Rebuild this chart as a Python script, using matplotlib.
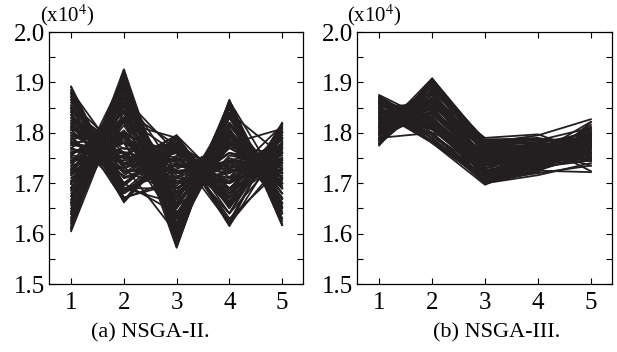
import matplotlib
matplotlib.use("Agg")
import matplotlib.pyplot as plt
from matplotlib.ticker import MultipleLocator

# objective index on the x axis
objectives = [1, 2, 3, 4, 5]

# NSGA-II solutions, one row per solution, values in units of 1e4
nsga2 = [
    [1.605, 1.868, 1.572, 1.865, 1.617],
    [1.612, 1.925, 1.590, 1.820, 1.680],
    [1.620, 1.904, 1.585, 1.858, 1.617],
    [1.626, 1.920, 1.600, 1.795, 1.670],
    [1.632, 1.912, 1.612, 1.850, 1.668],
    [1.638, 1.858, 1.598, 1.863, 1.692],
    [1.644, 1.926, 1.620, 1.785, 1.652],
    [1.650, 1.825, 1.608, 1.848, 1.620],
    [1.656, 1.898, 1.630, 1.795, 1.710],
    [1.662, 1.852, 1.618, 1.862, 1.652],
    [1.668, 1.915, 1.642, 1.755, 1.735],
    [1.674, 1.822, 1.628, 1.857, 1.640],
    [1.680, 1.795, 1.650, 1.835, 1.670],
    [1.686, 1.890, 1.640, 1.780, 1.728],
    [1.692, 1.825, 1.660, 1.786, 1.662],
    [1.698, 1.910, 1.652, 1.750, 1.715],
    [1.704, 1.832, 1.668, 1.798, 1.720],
    [1.710, 1.798, 1.662, 1.840, 1.755],
    [1.716, 1.872, 1.680, 1.728, 1.708],
    [1.722, 1.756, 1.672, 1.792, 1.672],
    [1.728, 1.830, 1.690, 1.740, 1.765],
    [1.734, 1.785, 1.684, 1.802, 1.712],
    [1.740, 1.868, 1.700, 1.702, 1.787],
    [1.746, 1.752, 1.695, 1.797, 1.695],
    [1.752, 1.726, 1.712, 1.782, 1.720],
    [1.758, 1.820, 1.705, 1.720, 1.785],
    [1.764, 1.752, 1.722, 1.735, 1.705],
    [1.770, 1.838, 1.715, 1.690, 1.772],
    [1.776, 1.762, 1.732, 1.742, 1.762],
    [1.782, 1.725, 1.728, 1.778, 1.808],
    [1.788, 1.800, 1.742, 1.672, 1.748],
    [1.794, 1.685, 1.738, 1.725, 1.725],
    [1.800, 1.758, 1.752, 1.680, 1.802],
    [1.806, 1.712, 1.748, 1.735, 1.760],
    [1.812, 1.795, 1.760, 1.640, 1.820],
    [1.818, 1.680, 1.755, 1.730, 1.740],
    [1.824, 1.665, 1.768, 1.722, 1.755],
    [1.830, 1.748, 1.765, 1.655, 1.818],
    [1.836, 1.685, 1.775, 1.672, 1.740],
    [1.842, 1.768, 1.772, 1.625, 1.808],
    [1.848, 1.695, 1.780, 1.685, 1.795],
    [1.854, 1.662, 1.778, 1.712, 1.815],
    [1.860, 1.735, 1.785, 1.615, 1.782],
    [1.866, 1.665, 1.790, 1.658, 1.768],
    [1.872, 1.698, 1.788, 1.620, 1.812],
    [1.878, 1.665, 1.792, 1.662, 1.805],
    [1.884, 1.738, 1.795, 1.618, 1.816],
    [1.890, 1.665, 1.790, 1.653, 1.777],
    [1.700, 1.845, 1.775, 1.680, 1.760],
    [1.740, 1.820, 1.790, 1.665, 1.780],
    [1.690, 1.870, 1.760, 1.700, 1.750],
    [1.850, 1.690, 1.690, 1.760, 1.740],
    [1.870, 1.672, 1.700, 1.745, 1.735],
    [1.830, 1.700, 1.640, 1.800, 1.690],
    [1.800, 1.735, 1.600, 1.840, 1.660],
    [1.660, 1.880, 1.720, 1.735, 1.745],
    [1.760, 1.780, 1.650, 1.805, 1.700],
    [1.820, 1.720, 1.790, 1.640, 1.760],
    [1.780, 1.760, 1.780, 1.630, 1.730],
    [1.720, 1.800, 1.680, 1.770, 1.720],
    [1.640, 1.900, 1.630, 1.820, 1.680],
    [1.880, 1.680, 1.770, 1.690, 1.790],
    [1.745, 1.790, 1.735, 1.720, 1.770],
    [1.795, 1.750, 1.760, 1.620, 1.745],
    [1.615, 1.880, 1.600, 1.830, 1.700],
    [1.630, 1.895, 1.660, 1.770, 1.760],
    [1.650, 1.860, 1.700, 1.720, 1.790],
    [1.675, 1.900, 1.580, 1.850, 1.660],
    [1.700, 1.800, 1.620, 1.810, 1.640],
    [1.725, 1.845, 1.640, 1.790, 1.700],
    [1.750, 1.760, 1.690, 1.760, 1.745],
    [1.775, 1.820, 1.710, 1.700, 1.780],
    [1.790, 1.700, 1.770, 1.700, 1.760],
    [1.810, 1.760, 1.660, 1.780, 1.690],
    [1.835, 1.740, 1.720, 1.745, 1.720],
    [1.855, 1.720, 1.750, 1.660, 1.790],
    [1.875, 1.700, 1.780, 1.680, 1.770],
    [1.892, 1.680, 1.740, 1.700, 1.800],
    [1.610, 1.910, 1.600, 1.800, 1.720],
    [1.720, 1.880, 1.610, 1.860, 1.630],
    [1.770, 1.730, 1.795, 1.690, 1.740],
    [1.860, 1.760, 1.700, 1.740, 1.720],
    [1.640, 1.830, 1.760, 1.640, 1.800],
    [1.805, 1.800, 1.630, 1.830, 1.650],
    [1.608, 1.900, 1.575, 1.855, 1.640],
    [1.625, 1.885, 1.595, 1.840, 1.660],
    [1.645, 1.870, 1.615, 1.820, 1.690],
    [1.665, 1.840, 1.635, 1.800, 1.700],
    [1.685, 1.815, 1.655, 1.815, 1.680],
    [1.705, 1.790, 1.675, 1.775, 1.740],
    [1.715, 1.805, 1.700, 1.745, 1.770],
    [1.730, 1.780, 1.720, 1.730, 1.750],
    [1.742, 1.770, 1.745, 1.705, 1.790],
    [1.755, 1.745, 1.765, 1.690, 1.775],
    [1.768, 1.740, 1.780, 1.670, 1.800],
    [1.785, 1.715, 1.790, 1.660, 1.810],
    [1.815, 1.700, 1.770, 1.675, 1.795],
    [1.845, 1.710, 1.735, 1.710, 1.760],
    [1.865, 1.690, 1.725, 1.735, 1.740],
    [1.885, 1.670, 1.710, 1.760, 1.725],
    [1.825, 1.725, 1.680, 1.780, 1.700],
    [1.795, 1.780, 1.620, 1.850, 1.645],
    [1.735, 1.860, 1.590, 1.860, 1.625],
    [1.660, 1.915, 1.575, 1.865, 1.630],
    [1.700, 1.890, 1.600, 1.835, 1.655],
    [1.760, 1.800, 1.660, 1.795, 1.690],
    [1.810, 1.740, 1.700, 1.770, 1.710],
    [1.850, 1.730, 1.760, 1.700, 1.750],
    [1.880, 1.695, 1.795, 1.650, 1.800],
    [1.620, 1.860, 1.680, 1.760, 1.720],
    [1.690, 1.830, 1.720, 1.700, 1.780],
    [1.780, 1.790, 1.740, 1.710, 1.790],
    [1.840, 1.690, 1.660, 1.775, 1.730],
    [1.755, 1.830, 1.690, 1.745, 1.735],
]

# NSGA-III solutions
nsga3 = [
    [1.875, 1.823, 1.702, 1.740, 1.798],
    [1.872, 1.780, 1.707, 1.727, 1.769],
    [1.870, 1.808, 1.722, 1.742, 1.808],
    [1.868, 1.780, 1.697, 1.741, 1.753],
    [1.865, 1.821, 1.716, 1.729, 1.788],
    [1.862, 1.788, 1.702, 1.734, 1.821],
    [1.860, 1.832, 1.721, 1.728, 1.753],
    [1.858, 1.796, 1.724, 1.749, 1.787],
    [1.855, 1.806, 1.720, 1.739, 1.745],
    [1.852, 1.782, 1.713, 1.749, 1.800],
    [1.850, 1.853, 1.723, 1.753, 1.793],
    [1.848, 1.783, 1.727, 1.739, 1.764],
    [1.845, 1.838, 1.743, 1.755, 1.802],
    [1.842, 1.780, 1.718, 1.754, 1.748],
    [1.840, 1.851, 1.737, 1.741, 1.783],
    [1.838, 1.818, 1.722, 1.746, 1.816],
    [1.835, 1.862, 1.742, 1.740, 1.752],
    [1.832, 1.826, 1.745, 1.762, 1.782],
    [1.830, 1.836, 1.741, 1.752, 1.745],
    [1.828, 1.807, 1.734, 1.761, 1.795],
    [1.825, 1.883, 1.744, 1.765, 1.788],
    [1.822, 1.813, 1.748, 1.752, 1.759],
    [1.820, 1.868, 1.764, 1.767, 1.798],
    [1.818, 1.810, 1.739, 1.766, 1.748],
    [1.815, 1.881, 1.758, 1.754, 1.778],
    [1.812, 1.848, 1.744, 1.760, 1.810],
    [1.810, 1.892, 1.763, 1.753, 1.750],
    [1.808, 1.856, 1.766, 1.775, 1.776],
    [1.805, 1.866, 1.762, 1.764, 1.735],
    [1.802, 1.837, 1.755, 1.774, 1.790],
    [1.800, 1.908, 1.765, 1.778, 1.783],
    [1.798, 1.843, 1.768, 1.764, 1.754],
    [1.795, 1.898, 1.785, 1.780, 1.792],
    [1.792, 1.840, 1.760, 1.779, 1.745],
    [1.790, 1.905, 1.779, 1.766, 1.773],
    [1.788, 1.878, 1.764, 1.771, 1.806],
    [1.785, 1.902, 1.784, 1.765, 1.745],
    [1.782, 1.886, 1.787, 1.787, 1.772],
    [1.780, 1.896, 1.783, 1.777, 1.724],
    [1.778, 1.867, 1.776, 1.787, 1.785],
    [1.775, 1.908, 1.782, 1.788, 1.779],
    [1.790, 1.800, 1.700, 1.716, 1.740],
    [1.860, 1.790, 1.705, 1.720, 1.735],
    [1.800, 1.870, 1.790, 1.797, 1.760],
    [1.815, 1.860, 1.780, 1.795, 1.827],
    [1.845, 1.810, 1.730, 1.760, 1.822],
    [1.870, 1.800, 1.760, 1.725, 1.722],
    [1.780, 1.895, 1.770, 1.735, 1.812],
    [1.830, 1.830, 1.700, 1.740, 1.770],
    [1.865, 1.830, 1.740, 1.750, 1.780],
    [1.850, 1.860, 1.770, 1.770, 1.760],
    [1.800, 1.850, 1.720, 1.735, 1.790],
    [1.785, 1.870, 1.750, 1.760, 1.750],
    [1.835, 1.800, 1.710, 1.730, 1.770],
    [1.820, 1.890, 1.775, 1.780, 1.800],
    [1.810, 1.830, 1.735, 1.745, 1.765],
    [1.855, 1.840, 1.755, 1.770, 1.790],
    [1.776, 1.880, 1.760, 1.780, 1.745],
    [1.840, 1.785, 1.705, 1.725, 1.760],
    [1.873, 1.810, 1.715, 1.735, 1.775],
    [1.866, 1.795, 1.710, 1.722, 1.805],
    [1.857, 1.815, 1.725, 1.738, 1.760],
    [1.848, 1.820, 1.735, 1.748, 1.785],
    [1.838, 1.845, 1.750, 1.758, 1.775],
    [1.827, 1.850, 1.738, 1.750, 1.800],
    [1.817, 1.855, 1.752, 1.762, 1.768],
    [1.806, 1.875, 1.760, 1.770, 1.795],
    [1.796, 1.885, 1.772, 1.776, 1.765],
    [1.786, 1.895, 1.778, 1.782, 1.790],
    [1.779, 1.900, 1.786, 1.790, 1.770],
    [1.862, 1.825, 1.730, 1.745, 1.750],
    [1.850, 1.795, 1.712, 1.733, 1.770],
    [1.828, 1.860, 1.755, 1.748, 1.780],
    [1.812, 1.870, 1.748, 1.768, 1.757],
    [1.797, 1.860, 1.742, 1.758, 1.787],
    [1.843, 1.790, 1.700, 1.722, 1.795],
    [1.832, 1.815, 1.718, 1.732, 1.745],
    [1.803, 1.890, 1.780, 1.785, 1.810],
    [1.788, 1.865, 1.745, 1.755, 1.772],
    [1.858, 1.845, 1.758, 1.765, 1.755],
    [1.823, 1.875, 1.770, 1.772, 1.783],
]

captions = ["(a) NSGA-II.", "(b) NSGA-III."]

plt.rcParams["font.family"] = ["Liberation Serif", "DejaVu Serif"]
plt.rcParams["mathtext.fontset"] = "stix"

LINE = "#231f20"

fig = plt.figure(figsize=(6.17, 3.52), dpi=100)
boxes = [[0.0794, 0.193, 0.412, 0.716], [0.5786, 0.193, 0.4134, 0.716]]
scale_x = [0.0648, 0.5624]
cap_x = [0.243, 0.805]

for i, (box, data, cap) in enumerate(zip(boxes, [nsga2, nsga3], captions)):
    ax = fig.add_axes(box)
    for row in data:
        ax.plot(objectives, row, color=LINE, lw=1.3)
    ax.set_xlim(0.58, 5.4)
    ax.set_ylim(1.5, 2.0)
    ax.set_xticks(objectives)
    ax.set_yticks([1.5, 1.6, 1.7, 1.8, 1.9, 2.0])
    ax.set_yticklabels(["1.5", "1.6", "1.7", "1.8", "1.9", "2.0"])
    ax.yaxis.set_minor_locator(MultipleLocator(0.05))
    ax.tick_params(which="both", direction="in", top=True, right=True,
                   length=4, width=0.8, labelsize=18)
    ax.tick_params(axis="x", pad=6)
    ax.tick_params(axis="y", pad=3)
    for s in ax.spines.values():
        s.set_linewidth(0.9)
    fig.text(scale_x[i], 0.940, "(x10$^{4}$)", fontsize=15,
             ha="left", va="baseline")
    fig.text(cap_x[i], 0.055, cap, fontsize=16, ha="center", va="center")

plt.savefig("out.png", dpi=100)
